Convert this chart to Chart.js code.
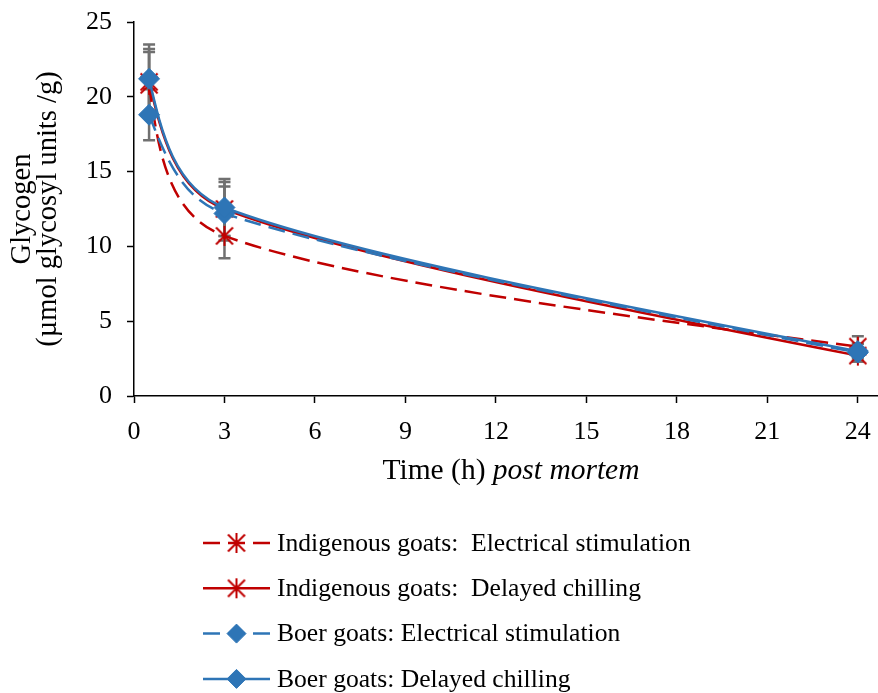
<!DOCTYPE html>
<html>
<head>
<meta charset="utf-8">
<script src="https://cdn.jsdelivr.net/npm/chart.js@4.4.1/dist/chart.umd.min.js"></script>
<style>
  html, body { margin: 0; padding: 0; background: #fff; overflow: hidden; }
  #wrap { width: 878px; height: 693px; overflow: hidden; position: relative; }
  canvas { display: block; }
</style>
</head>
<body>
<div id="wrap"><canvas id="glycogenChart" width="888" height="693"></canvas></div>
<script>
// Sampling times (h post mortem)
const hours = [0.5, 3, 24];

// Glycogen means (µmol glycosyl units /g)
const indigenousES = [20.8, 10.7, 3.3];
const indigenousDC = [21.0, 12.5, 2.7];
const boerES = [18.8, 12.2, 2.9];
const boerDC = [21.2, 12.6, 3.0];

// Standard errors
const indigenousESErr = [2.2, 1.5, 0.7];
const indigenousDCErr = [2.2, 1.8, 0.4];
const boerESErr = [1.7, 1.8, 0.6];
const boerDCErr = [2.3, 1.9, 0.5];

const seriesLabels = [
  'Indigenous goats:  Electrical stimulation',
  'Indigenous goats:  Delayed chilling',
  'Boer goats: Electrical stimulation',
  'Boer goats: Delayed chilling'
];

// Axis ticks
const timeTicks = [0, 3, 6, 9, 12, 15, 18, 21, 24];
const glycogenTicks = [0, 5, 10, 15, 20, 25];
const timeAxisMax = 25;
const glycogenAxisMax = 25;

const xTitleParts = [
  { text: 'Time (h) ', italic: false },
  { text: 'post mortem', italic: true }
];
const yTitleLines = ['Glycogen', '(µmol glycosyl units /g)'];

const RED = '#c00000';
const BLUE = '#2e75b6';
const GREY = '#707070';
const SERIF = "'Liberation Serif', 'Times New Roman', serif";

// Asterisk marker: vertical bar plus an X
function makeStar(color) {
  const size = 22;
  const c = document.createElement('canvas');
  c.width = size; c.height = size;
  const g = c.getContext('2d');
  const m = size / 2;
  g.strokeStyle = color;
  g.lineWidth = 2;
  g.beginPath();
  g.moveTo(m, m - 10); g.lineTo(m, m + 10);
  g.moveTo(m - 8.5, m - 8.5); g.lineTo(m + 8.5, m + 8.5);
  g.moveTo(m + 8.5, m - 8.5); g.lineTo(m - 8.5, m + 8.5);
  g.stroke();
  return c;
}
const starRed = makeStar(RED);

function points(values) {
  return hours.map((h, i) => ({ x: h, y: values[i] }));
}

function lineSeries(label, values, errors, color, dashed, marker, order) {
  const isDiamond = marker === 'rectRot';
  return {
    label,
    data: points(values),
    errors,
    borderColor: color,
    backgroundColor: color,
    borderWidth: 2.5,
    borderDash: dashed ? [17, 8] : [],
    tension: 0.4,
    fill: false,
    pointStyle: marker,
    pointRadius: isDiamond ? 10.5 : 11,
    pointBackgroundColor: color,
    pointBorderColor: color,
    pointBorderWidth: isDiamond ? 1 : 0,
    order
  };
}

const datasets = [
  lineSeries(seriesLabels[0], indigenousES, indigenousESErr, RED, true, starRed, 3),
  lineSeries(seriesLabels[1], indigenousDC, indigenousDCErr, RED, false, starRed, 2),
  lineSeries(seriesLabels[2], boerES, boerESErr, BLUE, true, 'rectRot', 1),
  lineSeries(seriesLabels[3], boerDC, boerDCErr, BLUE, false, 'rectRot', 0)
];

// Vertical error bars with caps, behind the series
const errorBars = {
  id: 'errorBars',
  beforeDatasetsDraw(chart) {
    const { ctx, scales: { y } } = chart;
    ctx.save();
    ctx.strokeStyle = GREY;
    ctx.lineWidth = 2.5;
    chart.data.datasets.forEach((ds, i) => {
      const meta = chart.getDatasetMeta(i);
      meta.data.forEach((pt, j) => {
        const v = ds.data[j].y, e = ds.errors[j];
        const top = y.getPixelForValue(v + e);
        const bot = y.getPixelForValue(v - e);
        const cap = 6;
        ctx.beginPath();
        ctx.moveTo(pt.x, top); ctx.lineTo(pt.x, bot);
        ctx.moveTo(pt.x - cap, top); ctx.lineTo(pt.x + cap, top);
        ctx.moveTo(pt.x - cap, bot); ctx.lineTo(pt.x + cap, bot);
        ctx.stroke();
      });
    });
    ctx.restore();
  }
};

// Smoothed curve: tangent along neighbour chord, arm lengths limited by
// the adjacent segment, free (natural) ends
const smoothCurves = {
  id: 'smoothCurves',
  beforeDatasetsDraw(chart) {
    chart.getSortedVisibleDatasetMetas().forEach(meta => {
      const line = meta.dataset;
      const pts = meta.data;
      const n = pts.length;
      if (!line || n < 3) return;
      line.updateControlPoints(chart.chartArea, 'x');
      for (let i = 1; i < n - 1; i++) {
        const p0 = pts[i - 1], p1 = pts[i], p2 = pts[i + 1];
        const dx = p2.x - p0.x, dy = p2.y - p0.y;
        const span = Math.hypot(dx, dy);
        const ux = dx / span, uy = dy / span;
        const dIn = Math.hypot(p1.x - p0.x, p1.y - p0.y);
        const dOut = Math.hypot(p2.x - p1.x, p2.y - p1.y);
        const armIn = Math.min(span / 6, 0.36 * dIn);
        const armOut = Math.min(span / 6, 0.36 * dOut);
        p1.cp1x = p1.x - armIn * ux; p1.cp1y = p1.y - armIn * uy;
        p1.cp2x = p1.x + armOut * ux; p1.cp2y = p1.y + armOut * uy;
      }
      const a = pts[0], b = pts[1];
      a.cp2x = (a.x + b.cp1x) / 2; a.cp2y = (a.y + b.cp1y) / 2;
      const z = pts[n - 1], w = pts[n - 2];
      z.cp1x = (z.x + w.cp2x) / 2; z.cp1y = (z.y + w.cp2y) / 2;
      line._path = undefined;
    });
  }
};

// Horizontal axis title with italic "post mortem"
const xTitle = {
  id: 'xTitle',
  afterDraw(chart) {
    const { ctx, scales: { x } } = chart;
    const size = 29.5;
    const fonts = xTitleParts.map(p => (p.italic ? 'italic ' : '') + size + 'px ' + SERIF);
    ctx.save();
    let total = 0;
    const widths = xTitleParts.map((p, i) => { ctx.font = fonts[i]; const w = ctx.measureText(p.text).width; total += w; return w; });
    let cx = (x.left + x.right) / 2 - total / 2;
    ctx.fillStyle = '#000';
    ctx.textBaseline = 'alphabetic';
    ctx.textAlign = 'left';
    xTitleParts.forEach((p, i) => {
      ctx.font = fonts[i];
      ctx.fillText(p.text, cx, 479);
      cx += widths[i];
    });
    ctx.restore();
  }
};

// Stacked legend below the plot
const stackedLegend = {
  id: 'stackedLegend',
  afterDraw(chart) {
    const { ctx } = chart;
    const top = 543, gap = 45.3, x0 = 203, x1 = 270, tx = 277;
    ctx.save();
    chart.data.datasets.forEach((ds, i) => {
      const yy = top + i * gap;
      ctx.strokeStyle = ds.borderColor;
      ctx.lineWidth = ds.borderWidth;
      ctx.setLineDash(ds.borderDash);
      ctx.beginPath();
      ctx.moveTo(x0, yy); ctx.lineTo(x1, yy);
      ctx.stroke();
      ctx.setLineDash([]);
      ctx.fillStyle = ds.pointBackgroundColor;
      ctx.strokeStyle = ds.pointBorderColor;
      ctx.lineWidth = ds.pointBorderWidth || 1;
      Chart.helpers.drawPoint(ctx, {
        pointStyle: ds.pointStyle,
        radius: ds.pointStyle === 'rectRot' ? 9.5 : ds.pointRadius,
        rotation: 0,
        borderWidth: ds.pointBorderWidth
      }, (x0 + x1) / 2, yy);
      ctx.fillStyle = '#000';
      ctx.font = '25.6px ' + SERIF;
      ctx.textAlign = 'left';
      ctx.textBaseline = 'middle';
      ctx.fillText(ds.label, tx, yy + 1);
    });
    ctx.restore();
  }
};

const axisGrid = {
  display: true,
  drawOnChartArea: false,
  drawTicks: true,
  tickLength: 7,
  tickColor: '#000',
  tickWidth: 1.5
};
const axisBorder = { display: true, color: '#000', width: 1.5 };

// Keep the plot box fixed: no extra room for overhanging end labels
function fixBox(size, key) {
  return s => {
    s[key] = size;
    s.paddingTop = 0; s.paddingBottom = 0; s.paddingLeft = 0; s.paddingRight = 0;
  };
}

new Chart(document.getElementById('glycogenChart'), {
  type: 'line',
  data: { datasets },
  options: {
    responsive: false,
    animation: false,
    events: [],
    layout: { autoPadding: false, padding: { top: 22, right: 0, bottom: 0, left: 0 } },
    plugins: { legend: { display: false }, tooltip: { enabled: false } },
    scales: {
      x: {
        type: 'linear',
        min: 0,
        max: timeAxisMax,
        afterBuildTicks: s => { s.ticks = timeTicks.map(v => ({ value: v })); },
        afterFit: fixBox(297, 'height'),
        ticks: { color: '#000', font: { family: SERIF, size: 26 }, padding: 14, maxRotation: 0, autoSkip: false },
        grid: axisGrid,
        border: axisBorder
      },
      y: {
        type: 'linear',
        min: 0,
        max: glycogenAxisMax,
        afterBuildTicks: s => { s.ticks = glycogenTicks.map(v => ({ value: v })); },
        afterFit: fixBox(134, 'width'),
        ticks: { color: '#000', font: { family: SERIF, size: 26 }, padding: 15 },
        grid: axisGrid,
        border: axisBorder,
        title: {
          display: true,
          text: yTitleLines,
          color: '#000',
          font: { family: SERIF, size: 28.5, lineHeight: 0.93 },
          padding: { top: 9, bottom: 0 }
        }
      }
    }
  },
  plugins: [errorBars, smoothCurves, xTitle, stackedLegend]
});
</script>
</body>
</html>
